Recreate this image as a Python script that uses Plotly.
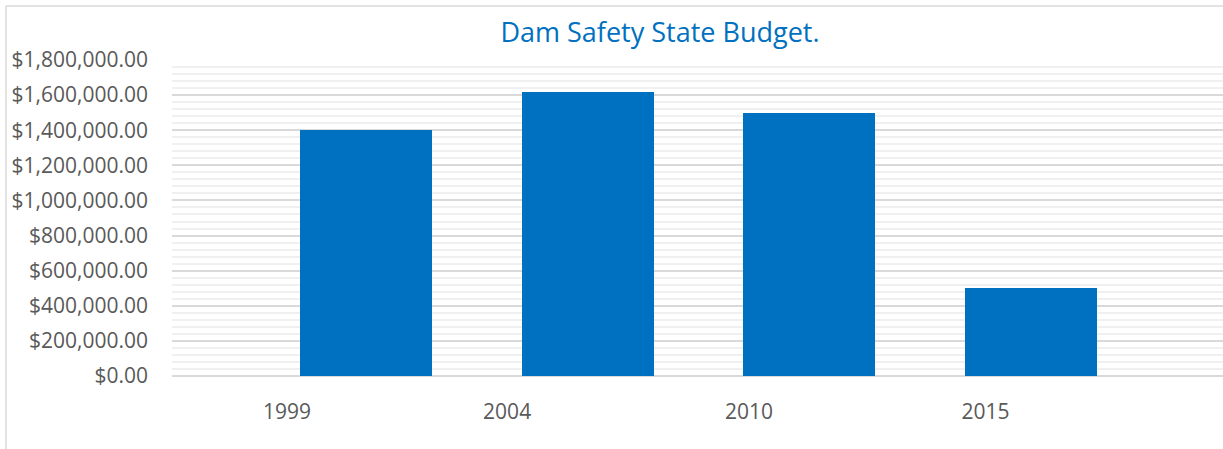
import plotly.graph_objects as go

years = ["1999", "2004", "2010", "2015"]
budget = [1400000, 1620000, 1500000, 500000]
y_ticks = [0, 200000, 400000, 600000, 800000, 1000000, 1200000, 1400000, 1600000, 1800000]
y_tick_labels = ["${:,.2f}".format(v) for v in y_ticks]

# style / layout parameters
W, H = 1223, 449
ML, MR, MT, MB = 172, 0, 60, 73
BAR_COLOR = "#0070c0"
label_offsets = [-0.357, -0.363, -0.271, -0.203]  # tick label shift (category units)
FONT = "Open Sans"

xpos = list(range(len(years)))
fig = go.Figure(go.Bar(x=xpos, y=budget, marker_color=BAR_COLOR, width=0.596,
                       marker_line_width=0))

pw = W - ML - MR
ph = H - MT - MB
fig.update_layout(
    width=W, height=H,
    margin=dict(l=ML, r=MR, t=MT, b=MB, pad=0),
    paper_bgcolor="white", plot_bgcolor="white",
    showlegend=False,
    title=dict(text="Dam Safety State Budget.", x=660 / W, xref="container",
               xanchor="center", y=1 - 33 / H, yref="container", yanchor="middle",
               font=dict(family=FONT, size=27, color="#0070c0")),
    font=dict(family=FONT, size=21, color="#595959"),
    bargap=0,
)
fig.update_xaxes(range=[-0.876, 3.869], showgrid=False, zeroline=False,
                 tickmode="array", tickvals=[i + o for i, o in zip(xpos, label_offsets)],
                 ticktext=years, ticks="", ticklabelstandoff=21,
                 tickfont=dict(family=FONT, size=21, color="#595959"))
fig.update_yaxes(range=[0, 1800000], tickmode="array", tickvals=y_ticks,
                 ticktext=y_tick_labels, showgrid=True, gridcolor="#d9d9d9", gridwidth=1.5,
                 minor=dict(dtick=40000, showgrid=True, gridcolor="#f0f0f0", gridwidth=1.5),
                 zeroline=True, zerolinecolor="#d9d9d9", zerolinewidth=1.5,
                 ticks="", ticklabelstandoff=23,
                 tickfont=dict(family=FONT, size=21, color="#595959"))

# chart frame (left and top edges visible)
fx = (6 - ML) / pw
fy = 1 + (MT - 6) / ph
fig.add_shape(type="line", xref="paper", yref="paper", x0=fx, x1=fx, y0=fy, y1=-2,
              line=dict(color="#d9d9d9", width=1.5), layer="below")
fig.add_shape(type="line", xref="paper", yref="paper", x0=fx, x1=2, y0=fy, y1=fy,
              line=dict(color="#d9d9d9", width=1.5), layer="below")

fig.write_html("out.html", config={"displayModeBar": False},
               post_script="document.body.style.margin='0';document.body.style.overflow='hidden';")
